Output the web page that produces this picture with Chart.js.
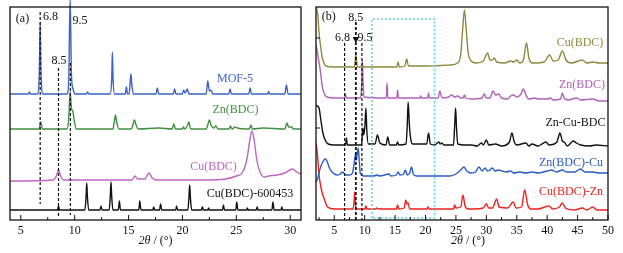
<!DOCTYPE html>
<html>
<head>
<meta charset="utf-8">
<script src="https://cdn.jsdelivr.net/npm/chart.js@4.4.1/dist/chart.umd.min.js"></script>
<style>
  html, body { margin: 0; padding: 0; background: #fff; }
  #wrap { position: relative; width: 623px; height: 253px; }
  #chartA { position: absolute; left: 0; top: 0; }
  #chartB { position: absolute; left: 310px; top: 0; }
</style>
</head>
<body>
<div id="wrap">
  <canvas id="chartA" width="310" height="253"></canvas>
  <canvas id="chartB" width="313" height="253"></canvas>
</div>
<script>
// tick labels
const tickA = [5, 10, 15, 20, 25, 30];
const tickB = [5, 10, 15, 20, 25, 30, 35, 40, 45, 50];

// marker lines (2theta)
const markA = [6.8, 8.5, 9.6];
const markB = [6.7, 8.55, 9.55];
const boxB = [11.2, 21.5];

// panel (a) patterns: [2theta, intensity a.u. incl. offset]
const mof5 = [[4, 126], [5.7, 126], [5.8, 128], [5.9, 126], [6.55, 126], [6.72, 148], [6.8, 198], [6.88, 148], [7.05, 126],
  [9.3, 126], [9.45, 140], [9.58, 222], [9.7, 145], [9.85, 131], [10.05, 126], [11.1, 126], [11.2, 128], [11.3, 126],
  [13.3, 126], [13.44, 142], [13.5, 168], [13.56, 142], [13.7, 126], [14.7, 126], [14.8, 133], [14.9, 126],
  [15.05, 126], [15.15, 138], [15.22, 146], [15.3, 136], [15.45, 126], [17.55, 126], [17.67, 132], [17.8, 126],
  [19.15, 126], [19.27, 131], [19.4, 126], [20.0, 126], [20.1, 130], [20.25, 127], [20.45, 131], [20.6, 126],
  [22.2, 126], [22.35, 139], [22.5, 129], [22.65, 130], [22.8, 126], [24.3, 126], [24.42, 131], [24.55, 126],
  [26.15, 126], [26.28, 132], [26.4, 126], [27.9, 126], [28.0, 128.5], [28.1, 126], [29.5, 126], [29.65, 135], [29.8, 126], [31, 126]];
const znbdcA = [[4, 91], [6.7, 91], [6.86, 98], [7.0, 91], [9.3, 91], [9.45, 102], [9.58, 128], [9.7, 112], [9.85, 108], [9.95, 100], [10.15, 91],
  [13.55, 91], [13.7, 100], [13.78, 105], [13.9, 98], [14.1, 91], [15.25, 91], [15.45, 97], [15.55, 100], [15.7, 95], [15.9, 91],
  [17.8, 92], [19.05, 91], [19.2, 96], [19.35, 91], [20.0, 91], [20.1, 93], [20.2, 91], [20.45, 94], [20.6, 98], [20.75, 91],
  [22.2, 91], [22.4, 97], [22.5, 100], [22.65, 95], [22.9, 92], [23.1, 94], [23.3, 91], [24.3, 91], [24.45, 94], [24.6, 91],
  [24.9, 93], [25.1, 92], [26.2, 91], [26.35, 95], [26.5, 91], [27.5, 92], [29.5, 91], [29.7, 97], [29.85, 93], [30.1, 93], [30.3, 91], [31, 91]];
const cubdcA = [[4, 39], [8.0, 40], [8.3, 44], [8.5, 50], [8.7, 44], [9.0, 40], [15.3, 40], [15.6, 44], [15.85, 41],
  [16.5, 41], [16.9, 47], [17.2, 42], [17.6, 40], [22, 40], [24, 41], [25, 44], [25.6, 48], [26.0, 62], [26.25, 80], [26.45, 89],
  [26.65, 80], [26.9, 60], [27.2, 48], [27.6, 43], [28.0, 44], [28.8, 45], [29.5, 47], [30.2, 51], [30.6, 48], [31, 46]];
const cuRef = [[4, 10], [8.4, 10], [8.5, 14], [8.6, 10], [10.95, 10], [11.06, 24], [11.12, 37], [11.18, 24], [11.3, 10],
  [12.35, 10], [12.45, 14], [12.55, 10], [13.2, 10], [13.31, 25], [13.37, 38], [13.43, 25], [13.55, 10], [14.05, 10], [14.15, 19], [14.25, 10],
  [15.95, 10], [16.04, 19], [16.15, 10], [17.25, 10], [17.33, 13], [17.42, 10], [17.88, 10], [17.97, 16], [18.08, 10],
  [19.38, 10], [19.45, 14], [19.55, 10], [20.5, 10], [20.61, 24], [20.67, 35], [20.73, 24], [20.85, 10], [21.75, 10], [21.85, 13], [21.95, 10],
  [22.35, 10], [22.43, 12], [22.5, 10], [23.72, 10], [23.8, 15], [23.9, 10], [24.95, 10], [25.04, 18], [25.14, 10],
  [25.95, 10], [26.03, 12], [26.1, 10], [26.85, 10], [26.93, 13], [27.02, 10], [28.3, 10], [28.4, 18], [28.5, 10],
  [29.15, 10], [29.22, 13], [29.3, 10], [31, 10]];

// panel (b) patterns
const cubdcB = [[2.0, 213], [2.3, 205], [2.5, 187], [2.8, 172], [3.0, 163], [3.3, 157], [3.6, 154], [5, 153],
  [8.3, 153], [8.45, 160], [8.55, 165], [8.65, 160], [8.8, 153], [15.3, 153], [15.5, 158], [15.7, 153], [16.6, 154], [16.9, 161], [17.2, 154],
  [20, 154], [24, 155], [25.3, 157], [25.8, 166], [26.1, 190], [26.4, 210], [26.7, 190], [27.0, 168], [27.5, 159], [28.3, 157],
  [29.5, 159], [30.2, 167], [30.6, 160], [31.0, 160], [31.3, 162], [31.7, 158], [33, 157], [34, 159], [34.5, 158], [35, 160],
  [35.5, 157], [36.1, 160], [36.6, 177], [37.0, 162], [37.6, 157], [39.5, 158], [40.4, 165], [41.0, 159], [41.8, 160],
  [42.5, 169], [43.1, 160], [44, 157], [45.8, 160], [46.5, 157], [47.5, 158], [48.5, 157], [50, 157]];
const znbdcB = [[2.0, 175], [2.3, 165], [2.7, 150], [3.0, 135], [3.3, 127], [3.8, 123], [5, 122], [6.7, 122], [6.85, 126], [7.0, 122],
  [9.35, 122], [9.5, 135], [9.62, 160], [9.75, 135], [9.9, 123], [13.55, 122], [13.68, 137], [13.82, 122], [15.3, 122], [15.42, 130], [15.55, 122],
  [19.05, 122], [19.2, 124], [19.35, 122], [20.35, 122], [20.5, 127], [20.65, 122], [22.1, 122], [22.35, 129], [22.6, 124], [22.9, 122],
  [23.8, 123], [24.3, 125], [24.8, 123], [25.3, 124], [25.8, 122], [26.2, 122], [26.4, 125], [26.6, 122], [27.5, 121], [29.3, 122],
  [29.65, 126], [30, 122], [30.6, 122], [31.1, 129], [31.5, 125], [32.0, 126], [32.5, 122], [33.5, 121], [34.0, 124], [34.5, 125],
  [35.0, 123], [35.7, 126], [36.1, 131], [36.5, 125], [37.0, 121], [38.0, 122], [38.5, 121], [40, 121], [40.5, 122], [41, 120],
  [42.2, 121], [42.5, 127], [42.8, 122], [43.5, 120], [44.8, 122], [45.5, 120], [47.5, 121], [48.5, 119], [50, 119]];
const znCuBdc = [[2.0, 115], [2.2, 114], [2.5, 112], [2.8, 100], [3.1, 88], [3.5, 80], [4.0, 76], [5, 75], [6.85, 75], [7.0, 82], [7.15, 75],
  [9.5, 75], [9.7, 92], [9.85, 85], [10.05, 95], [10.2, 112], [10.35, 90], [10.6, 76], [11.7, 76], [12.1, 85], [12.5, 77],
  [13.5, 75], [13.8, 83], [14.1, 75], [15.2, 75], [15.4, 78], [15.6, 75], [16.8, 76], [17.0, 95], [17.15, 118], [17.35, 95], [17.6, 80], [17.9, 76],
  [20.2, 76], [20.5, 87], [20.8, 76], [21.5, 75], [22.2, 78], [22.4, 76], [22.7, 77], [23.0, 75], [24.6, 75], [24.8, 95], [24.95, 112],
  [25.1, 92], [25.3, 76], [26.5, 75], [27.5, 75], [28.5, 74], [29.2, 77], [29.5, 75], [30.0, 80], [30.4, 75], [31.5, 76], [32.5, 74],
  [33.8, 78], [34.2, 87], [34.6, 78], [35, 75], [36.5, 77], [37, 74], [37.5, 76], [38.5, 74], [39.8, 78], [40.3, 75], [41.6, 78],
  [42.1, 87], [42.5, 79], [42.8, 78], [43.3, 74], [44.3, 79], [44.8, 77], [45.5, 75], [47, 74], [48, 75], [50, 74]];
const znbdcCu = [[2.0, 38], [2.3, 42], [2.7, 52], [3.2, 59], [3.5, 61], [3.8, 59], [4.2, 52], [4.8, 47], [5.5, 45], [6.0, 46], [6.4, 48],
  [6.8, 45], [7.5, 45], [8.0, 47], [8.3, 58], [8.5, 66], [8.65, 60], [8.8, 68], [8.95, 72], [9.1, 60], [9.3, 46], [9.8, 44],
  [11.5, 44], [12, 45], [12.5, 44], [14, 46], [14.3, 44], [15.2, 45], [15.5, 48], [15.8, 45], [16.4, 46], [16.7, 50], [17.0, 45],
  [17.4, 47], [17.7, 53], [18.0, 46], [18.5, 44], [22, 44], [24, 44], [25, 46], [25.8, 50], [26.3, 53], [26.8, 49], [27.5, 47],
  [28.2, 48], [28.8, 53], [29.3, 49], [29.8, 52], [30.2, 49], [30.6, 50], [31.0, 52], [31.4, 49], [32, 50], [32.6, 49], [33.3, 48],
  [34, 49], [34.5, 47], [35.5, 48], [36.5, 47], [37.5, 48], [38.5, 47], [40, 49], [40.7, 50], [41.5, 48], [42.5, 50], [43.2, 48],
  [44.5, 48], [45.5, 51], [46.2, 48], [47.5, 48], [48.5, 47], [50, 47]];
const cubdcZn = [[2.0, 77], [2.2, 68], [2.5, 45], [2.9, 30], [3.3, 22], [3.9, 13], [5, 11], [8.1, 11], [8.25, 18], [8.35, 28], [8.45, 18], [8.6, 11],
  [10.05, 11], [10.2, 14], [10.35, 11], [11.8, 11], [12.0, 12], [12.3, 11], [15.2, 11], [15.4, 15], [15.6, 11], [16.5, 12], [16.75, 20],
  [16.95, 16], [17.15, 17], [17.4, 11], [20.2, 11], [20.4, 13], [20.6, 11], [24.6, 11], [24.8, 15], [25.0, 12], [25.8, 13], [26.15, 25],
  [26.5, 14], [27.0, 11], [28.0, 11], [29.5, 12], [30.0, 16], [30.4, 12], [31.0, 12], [31.7, 21], [32.1, 13], [33.5, 12], [34.4, 18],
  [34.9, 12], [35.8, 13], [36.3, 30], [36.8, 15], [37.3, 11], [38.5, 11], [40.3, 14], [40.9, 11], [42.0, 13], [42.5, 17], [43.0, 12],
  [44.5, 10], [45.8, 12], [46.5, 10], [47.5, 13], [48.2, 10], [50, 10]];

const serif = '"Liberation Serif", "Times New Roman", serif';

function series(data, color, extra) {
  return Object.assign({ data, borderColor: color, borderWidth: 1.4, pointRadius: 0,
    cubicInterpolationMode: 'monotone', fill: false }, extra || {});
}
function vline(x, y0, y1, extra) {
  return Object.assign({ data: [[x, y0], [x, y1]], borderColor: '#111', borderWidth: 1.2,
    borderDash: [3, 2], pointRadius: 0 }, extra || {});
}

// frame, inward ticks and text
const deco = {
  id: 'deco',
  afterDatasetsDraw(chart, args, opts) {
    const { ctx, chartArea: a, scales: { x, y } } = chart;
    ctx.save();
    ctx.strokeStyle = '#111';
    ctx.lineWidth = 1.3;
    ctx.strokeRect(a.left, a.top, a.right - a.left, a.bottom - a.top);
    ctx.lineWidth = 1;
    ctx.beginPath();
    opts.major.forEach(v => { const p = x.getPixelForValue(v); ctx.moveTo(p, a.bottom); ctx.lineTo(p, a.bottom - 5); });
    opts.minor.forEach(v => { const p = x.getPixelForValue(v); ctx.moveTo(p, a.bottom); ctx.lineTo(p, a.bottom - 3); });
    (opts.yticks || []).forEach(v => { const p = y.getPixelForValue(v); ctx.moveTo(a.left, p); ctx.lineTo(a.left + 4, p); });
    ctx.stroke();

    ctx.textAlign = 'center';
    ctx.textBaseline = 'middle';
    opts.texts.forEach(t => {
      ctx.fillStyle = t.color || '#111';
      ctx.font = (t.size || 12) + 'px ' + serif;
      ctx.fillText(t.text, t.x, t.y);
    });

    // axis title: italic 2θ + " / (°)"
    ctx.fillStyle = '#111';
    ctx.textAlign = 'left';
    ctx.font = 'italic 12px ' + serif;
    const w1 = ctx.measureText('2θ').width;
    ctx.font = '12px ' + serif;
    const w2 = ctx.measureText(' / (°)').width;
    const cx = (a.left + a.right) / 2 + opts.titleShift;
    const sx = cx - (w1 + w2) / 2;
    ctx.font = 'italic 12px ' + serif;
    ctx.fillText('2θ', sx, 241);
    ctx.font = '12px ' + serif;
    ctx.fillText(' / (°)', sx + w1, 241);
    ctx.restore();
  }
};

function xScale(min, max, ticks) {
  return {
    type: 'linear', min, max,
    grid: { display: false, drawTicks: false },
    border: { display: false },
    ticks: { font: { family: serif, size: 12 }, color: '#111', padding: 4, maxRotation: 0 },
    afterBuildTicks: s => { s.ticks = ticks.map(v => ({ value: v })); },
    afterFit: s => { s.height = 33; }
  };
}

function baseOptions(padding, x, decoOpts) {
  return {
    responsive: false, animation: false, devicePixelRatio: 1,
    layout: { padding },
    plugins: { legend: { display: false }, tooltip: { enabled: false }, deco: decoOpts },
    scales: { x, y: { display: false, min: 0, max: 213 } }
  };
}

new Chart(document.getElementById('chartA'), {
  type: 'line',
  data: {
    datasets: [
      vline(markA[0], 208, 16),
      vline(markA[1], 152, 4),
      vline(markA[2], 157, 5),
      series(mof5, '#3b62c4', { clip: false }),
      series(znbdcA, '#3f8f3f'),
      series(cubdcA, '#c064c4'),
      series(cuRef, '#111')
    ]
  },
  options: baseOptions({ left: 10, right: 9, top: 7, bottom: 0 }, xScale(4, 31, tickA), {
    major: tickA,
    minor: [7.5, 12.5, 17.5, 22.5, 27.5],
    titleShift: 0,
    texts: [
      { text: '(a)', x: 22.5, y: 19 },
      { text: '6.8', x: 50.5, y: 17 },
      { text: '9.5', x: 80, y: 21 },
      { text: '8.5', x: 59, y: 61 },
      { text: 'MOF-5', x: 235, y: 79, color: '#3b62c4' },
      { text: 'Zn(BDC)', x: 235.5, y: 110, color: '#3f8f3f' },
      { text: 'Cu(BDC)', x: 213.5, y: 167, color: '#c064c4' },
      { text: 'Cu(BDC)-600453', x: 250, y: 194, color: '#111' }
    ]
  }),
  plugins: [deco]
});

new Chart(document.getElementById('chartB'), {
  type: 'line',
  data: {
    datasets: [
      vline(markB[0], 177, 0),
      vline(markB[1], 198, 0, { borderWidth: 1.8 }),
      vline(markB[2], 177, 0),
      { data: [[markB[1], 181]], pointStyle: 'triangle', rotation: 180, pointRadius: 3,
        pointBackgroundColor: '#111', pointBorderColor: '#111', showLine: false },
      { data: [[boxB[0], 2], [boxB[0], 201], [boxB[1], 201], [boxB[1], 2], [boxB[0], 2]],
        borderColor: '#5fcde0', borderWidth: 1.5, borderDash: [2, 2], pointRadius: 0 },
      series(cubdcB, '#8b8a3e'),
      series(znbdcB, '#b160b8'),
      series(znCuBdc, '#111'),
      series(znbdcCu, '#2a5cc8'),
      series(cubdcZn, '#f0201c')
    ]
  },
  options: baseOptions({ left: 6, right: 15, top: 7, bottom: 0 }, xScale(2, 50, tickB), {
    major: tickB,
    minor: [2.5, 7.5, 12.5, 17.5, 22.5, 27.5, 32.5, 37.5, 42.5, 47.5],
    yticks: [182, 92],
    titleShift: 6,
    texts: [
      { text: '(b)', x: 18.7, y: 17 },
      { text: '8.5', x: 45.8, y: 18 },
      { text: '6.8', x: 32.5, y: 38 },
      { text: '9.5', x: 55, y: 38 },
      { text: 'Cu(BDC)', x: 270, y: 43, color: '#8b8a3e' },
      { text: 'Zn(BDC)', x: 272, y: 85, color: '#b160b8' },
      { text: 'Zn-Cu-BDC', x: 265.5, y: 123, color: '#111' },
      { text: 'Zn(BDC)-Cu', x: 261, y: 163, color: '#2a5cc8' },
      { text: 'Cu(BDC)-Zn', x: 261, y: 192, color: '#f0201c' }
    ]
  }),
  plugins: [deco]
});
</script>
</body>
</html>
